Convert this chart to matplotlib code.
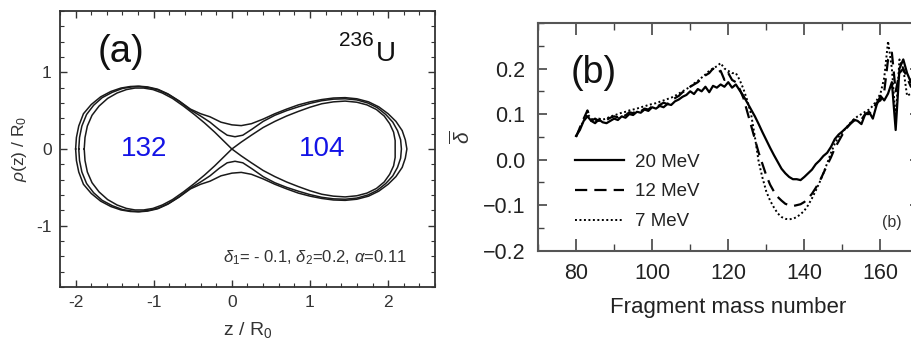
import numpy as np
import matplotlib
matplotlib.use("Agg")
import matplotlib.pyplot as plt
from matplotlib.ticker import MultipleLocator

plt.rcParams['font.family'] = ['Liberation Sans', 'DejaVu Sans']
plt.rcParams['mathtext.fontset'] = 'custom'
plt.rcParams['mathtext.rm'] = 'Liberation Sans'
plt.rcParams['mathtext.it'] = 'Liberation Sans:italic'
plt.rcParams['mathtext.bf'] = 'Liberation Sans:bold'

# ---------------- Panel (a): shape contours (upper half, z/R0 vs rho/R0) ----------------
outer_z = [-2.00, -1.99, -1.96, -1.90, -1.80, -1.68, -1.55, -1.42, -1.30, -1.20, -1.08, -0.95,
           -0.82, -0.68, -0.53, -0.40, -0.28, -0.14, 0.00, 0.12, 0.25, 0.40, 0.55, 0.70, 0.85,
           1.00, 1.15, 1.30, 1.45, 1.60, 1.75, 1.88, 2.00, 2.10, 2.18, 2.22, 2.24]
outer_r = [0.00, 0.15, 0.30, 0.46, 0.58, 0.68, 0.75, 0.795, 0.815, 0.82, 0.81, 0.78,
           0.72, 0.63, 0.52, 0.46, 0.42, 0.35, 0.315, 0.305, 0.33, 0.39, 0.46, 0.52, 0.575,
           0.615, 0.645, 0.665, 0.67, 0.655, 0.615, 0.55, 0.46, 0.36, 0.24, 0.12, 0.00]

middle_z = [-1.96, -1.95, -1.92, -1.86, -1.77, -1.66, -1.53, -1.40, -1.28, -1.18, -1.06, -0.94,
            -0.81, -0.67, -0.53, -0.40, -0.28, -0.16, -0.06, 0.04, 0.14, 0.26, 0.40, 0.55, 0.70,
            0.85, 1.00, 1.15, 1.30, 1.45, 1.60, 1.74, 1.86, 1.97, 2.06, 2.12, 2.16, 2.17]
middle_r = [0.00, 0.15, 0.30, 0.45, 0.57, 0.67, 0.74, 0.79, 0.81, 0.815, 0.80, 0.77,
            0.71, 0.62, 0.51, 0.43, 0.35, 0.25, 0.18, 0.16, 0.18, 0.26, 0.36, 0.44, 0.50,
            0.55, 0.595, 0.63, 0.65, 0.655, 0.64, 0.60, 0.54, 0.45, 0.35, 0.24, 0.12, 0.00]

inner_z = [-1.89, -1.88, -1.85, -1.79, -1.70, -1.59, -1.47, -1.35, -1.24, -1.13, -1.01, -0.89,
           -0.76, -0.62, -0.48, -0.35, -0.22, -0.10, 0.00, 0.12, 0.25, 0.40, 0.55, 0.70, 0.85,
           1.00, 1.15, 1.30, 1.45, 1.60, 1.73, 1.85, 1.95, 2.02, 2.07, 2.09, 2.09]
inner_r = [0.00, 0.15, 0.30, 0.44, 0.56, 0.66, 0.73, 0.775, 0.795, 0.795, 0.775, 0.73,
           0.66, 0.56, 0.45, 0.34, 0.22, 0.10, 0.00, 0.09, 0.18, 0.28, 0.36, 0.43, 0.49,
           0.545, 0.59, 0.615, 0.625, 0.61, 0.575, 0.515, 0.43, 0.33, 0.22, 0.11, 0.00]

frag_labels = ["132", "104"]
frag_pos_z = [-1.13, 1.15]

# ---------------- Panel (b): mean delta vs fragment mass number ----------------
mass = list(range(80, 171))
delta_20 = [0.052, 0.065, 0.085, 0.095, 0.085, 0.080, 0.088, 0.082, 0.080, 0.085,
            0.090, 0.087, 0.095, 0.092, 0.100, 0.098, 0.105, 0.103, 0.110, 0.107,
            0.115, 0.112, 0.118, 0.115, 0.122, 0.120, 0.128, 0.132, 0.138, 0.142,
            0.150, 0.144, 0.155, 0.150, 0.160, 0.148, 0.162, 0.158, 0.165, 0.160,
            0.170, 0.158, 0.165, 0.152, 0.140, 0.125, 0.110, 0.095, 0.078, 0.060,
            0.043, 0.026, 0.010, -0.005, -0.020, -0.030, -0.038, -0.043, -0.043, -0.045,
            -0.038, -0.030, -0.022, -0.010, -0.002, 0.008, 0.015, 0.028, 0.045, 0.055,
            0.062, 0.070, 0.078, 0.088, 0.085, 0.078, 0.100, 0.105, 0.090, 0.120,
            0.140, 0.130, 0.145, 0.170, 0.065, 0.200, 0.220, 0.190, 0.170, 0.200,
            0.180]
delta_12 = [0.050, 0.070, 0.090, 0.108, 0.085, 0.090, 0.085, 0.090, 0.087, 0.092,
            0.095, 0.093, 0.100, 0.097, 0.104, 0.102, 0.108, 0.106, 0.112, 0.110,
            0.117, 0.115, 0.120, 0.125, 0.122, 0.130, 0.135, 0.140, 0.148, 0.152,
            0.160, 0.165, 0.170, 0.178, 0.185, 0.190, 0.200, 0.190, 0.195, 0.175,
            0.190, 0.175, 0.170, 0.155, 0.135, 0.105, 0.075, 0.045, 0.015, -0.010,
            -0.035, -0.055, -0.070, -0.082, -0.090, -0.097, -0.100, -0.102, -0.100, -0.098,
            -0.093, -0.085, -0.075, -0.062, -0.048, -0.030, -0.012, 0.005, 0.025, 0.040,
            0.055, 0.068, 0.078, 0.085, 0.090, 0.088, 0.100, 0.100, 0.110, 0.125,
            0.130, 0.150, 0.220, 0.235, 0.150, 0.190, 0.200, 0.180, 0.160, 0.170,
            0.150]
delta_7 = [0.050, 0.070, 0.085, 0.100, 0.090, 0.085, 0.090, 0.088, 0.090, 0.095,
           0.097, 0.100, 0.103, 0.105, 0.108, 0.110, 0.112, 0.115, 0.117, 0.120,
           0.122, 0.124, 0.127, 0.130, 0.133, 0.136, 0.140, 0.145, 0.150, 0.155,
           0.160, 0.167, 0.173, 0.180, 0.187, 0.195, 0.200, 0.205, 0.212, 0.200,
           0.195, 0.190, 0.190, 0.175, 0.155, 0.130, 0.100, 0.050, -0.005, -0.040,
           -0.070, -0.090, -0.105, -0.118, -0.126, -0.130, -0.131, -0.130, -0.126, -0.120,
           -0.112, -0.100, -0.085, -0.068, -0.050, -0.030, -0.008, 0.015, 0.035, 0.050,
           0.060, 0.070, 0.080, 0.088, 0.095, 0.100, 0.105, 0.110, 0.118, 0.130,
           0.145, 0.180, 0.260, 0.200, 0.090, 0.220, 0.200, 0.140, 0.145, 0.140,
           0.140]
series_labels = ["20 MeV", "12 MeV", "7 MeV"]

# ---------------- Figure ----------------
W, H = 911, 340
fig = plt.figure(figsize=(W / 100, H / 100), dpi=100)

def px_axes(l, t, r, b):
    return [l / W, 1 - b / H, (r - l) / W, (b - t) / H]

# ----- Panel (a) -----
ax1 = fig.add_axes(px_axes(60, 11, 435, 287))
for zs, rs in [(outer_z, outer_r), (middle_z, middle_r), (inner_z, inner_r)]:
    z = np.array(zs)
    r = np.array(rs)
    ax1.plot(np.concatenate([z, z[::-1]]), np.concatenate([r, -r[::-1]]),
             color='#1a1a1a', lw=1.1)
ax1.set_xlim(-2.2, 2.6)
ax1.set_ylim(-1.8, 1.8)
ax1.xaxis.set_major_locator(MultipleLocator(1))
ax1.xaxis.set_minor_locator(MultipleLocator(0.2))
ax1.yaxis.set_major_locator(MultipleLocator(1))
ax1.yaxis.set_minor_locator(MultipleLocator(0.2))
ax1.tick_params(which='both', direction='in', top=True, right=True, colors='#333333',
                labelsize=12.5)
ax1.tick_params(which='major', length=5, width=1.0, pad=6)
ax1.tick_params(which='minor', length=3, width=0.8)
for s in ax1.spines.values():
    s.set_color('#333333')
    s.set_linewidth(1.3)
ax1.set_xticks([-2, -1, 0, 1, 2])
ax1.set_xticklabels(['-2', '-1', '0', '1', '2'])
ax1.set_yticks([-1, 0, 1])
ax1.set_yticklabels(['-1', '0', '1'])
ax1.set_xlabel(r'z / R$_0$', fontsize=14, color='#333333', labelpad=7)
ax1.set_ylabel(r'$\rho$(z) / R$_0$', fontsize=12.5, color='#333333', labelpad=5)

for lab, zz in zip(frag_labels, frag_pos_z):
    ax1.text(zz, 0.0, lab, color='#1414e6', fontsize=20, ha='center', va='center')

ax1.text(0.10, 0.85, '(a)', transform=ax1.transAxes, fontsize=27.5, color='#111111',
         ha='left', va='center')
fig.text(374 / W, 1 - 41 / H, '236', fontsize=15, ha='right', va='center', color='#111111')
fig.text(376 / W, 1 - 54 / H, 'U', fontsize=20, ha='left', va='center', color='#111111')
fig.text(407 / W, 1 - 258 / H, r'$\delta_1$= - 0.1, $\delta_2$=0.2, $\alpha$=0.11',
         fontsize=12, ha='right', va='center', color='#333333')

# ----- Panel (b) -----
ax2 = fig.add_axes(px_axes(538, 23, 918.5, 250.7))
ax2.plot(mass, delta_20, color='black', lw=1.6, ls='-', label=series_labels[0])
ax2.plot(mass, delta_12, color='black', lw=1.6, ls=(0, (5.5, 3.2)), label=series_labels[1])
ax2.plot(mass, delta_7, color='black', lw=1.4, ls=(0, (1, 1.3)), label=series_labels[2])
ax2.set_xlim(70, 170)
ax2.set_ylim(-0.2, 0.3)
ax2.set_xticks([80, 100, 120, 140, 160])
ax2.xaxis.set_minor_locator(MultipleLocator(10))
ax2.set_yticks([-0.2, -0.1, 0.0, 0.1, 0.2])
ax2.set_yticklabels(['\u22120.2', '\u22120.1', '0.0', '0.1', '0.2'])
ax2.yaxis.set_minor_locator(MultipleLocator(0.05))
ax2.tick_params(which='both', direction='in', top=True, right=True, colors='#444444',
                labelcolor='#222222', labelsize=15.5)
ax2.tick_params(axis='x', which='major', length=8.5, width=1.2, pad=9)
ax2.tick_params(axis='x', which='minor', length=5, width=1.0)
ax2.tick_params(axis='y', which='major', length=6.5, width=1.2, pad=9)
ax2.tick_params(axis='y', which='minor', length=4.5, width=1.0)
for s in ax2.spines.values():
    s.set_color('#555555')
    s.set_linewidth(1.5)
ax2.set_xlabel('Fragment mass number', fontsize=16, color='#222222', labelpad=9)
fig.text(462 / W, 1 - 137 / H, r'$\overline{\delta}$', rotation=90, fontsize=15,
         ha='center', va='center', color='#333333')

leg = ax2.legend(loc='upper left', bbox_to_anchor=(0.097, 0.427), frameon=False,
                 fontsize=13.5, handlelength=2.6, handletextpad=0.6, labelspacing=0.68,
                 borderpad=0, borderaxespad=0)
for t in leg.get_texts():
    t.set_color('#222222')

ax2.text(0.085, 0.78, '(b)', transform=ax2.transAxes, fontsize=27, color='#111111',
         ha='left', va='center')
ax2.text(0.93, 0.126, '(b)', transform=ax2.transAxes, fontsize=11.5, color='#333333',
         ha='center', va='center')

fig.savefig('out.png', dpi=100)
